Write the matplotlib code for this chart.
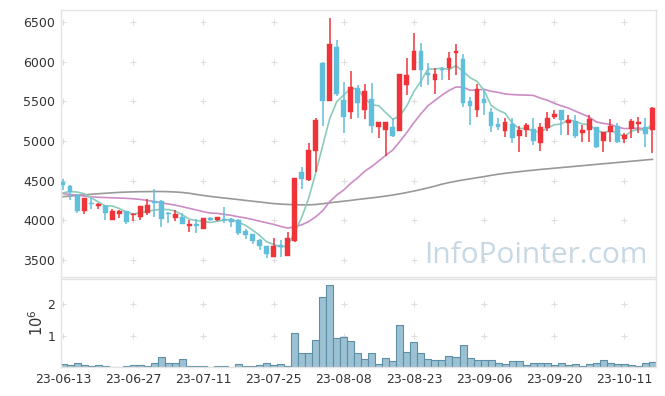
import matplotlib
matplotlib.use('Agg')
import matplotlib.pyplot as plt
import numpy as np

dates = (
    ['2023-06-%02d' % d for d in [13, 14, 15, 16, 19, 20, 21, 22, 23, 26, 27, 28, 29, 30]] +
    ['2023-07-%02d' % d for d in [3, 4, 5, 6, 7, 10, 11, 12, 13, 14, 17, 18, 19, 20, 21, 24, 25, 26, 27, 28, 31]] +
    ['2023-08-%02d' % d for d in [1, 2, 3, 4, 7, 8, 9, 10, 11, 14, 16, 17, 18, 21, 22, 23, 24, 25, 28, 29, 30, 31]] +
    ['2023-09-%02d' % d for d in [1, 4, 5, 6, 7, 8, 11, 12, 13, 14, 15, 18, 19, 20, 21, 22, 25, 26, 27]] +
    ['2023-10-%02d' % d for d in [4, 5, 6, 10, 11, 12, 13, 16, 17]]
)

opens = [4486, 4432, 4318, 4120, 4210, 4180, 4184, 4003, 4079, 4117,
         4066, 4045, 4087, 4243, 4243, 4095, 4033, 4045, 3930, 3940,
         3894, 4024, 4003, 4020, 4020, 4003, 3864, 3823, 3751, 3675,
         3533, 3680, 3553, 3743, 4608, 4508, 4877, 5987, 5508, 6185,
         5516, 5361, 5664, 5390, 5529, 5175, 5140, 5172, 5130, 5706,
         5895, 6134, 5861, 5769, 5900, 5924, 6105, 6033, 5504, 5390,
         5529, 5361, 5218, 5129, 5218, 5062, 5134, 5155, 4978, 5167,
         5306, 5390, 5230, 5255, 5104, 5138, 5172, 5003, 5109, 5189,
         5020, 5147, 5214, 5172, 5134]
highs = [4520, 4440, 4325, 4285, 4277, 4215, 4190, 4138, 4125, 4120,
         4085, 4180, 4264, 4390, 4250, 4100, 4130, 4091, 4007, 4010,
         4030, 4040, 4045, 4163, 4025, 4010, 3890, 3830, 3760, 3680,
         3772, 3751, 3848, 4535, 4676, 4970, 5285, 5990, 6547, 6273,
         5743, 5882, 5700, 5714, 5727, 5245, 5245, 5285, 5850, 6042,
         6357, 6231, 5979, 5920, 5937, 6118, 6218, 6096, 5558, 5714,
         5643, 5412, 5291, 5293, 5285, 5189, 5222, 5285, 5222, 5361,
         5390, 5395, 5327, 5327, 5201, 5327, 5175, 5115, 5277, 5230,
         5100, 5277, 5306, 5285, 5432]
lows = [4380, 4255, 4091, 4075, 4138, 4138, 4003, 4000, 4024, 3953,
        3990, 4007, 4066, 4045, 3918, 3969, 3986, 3950, 3852, 3840,
        3890, 3990, 3995, 3961, 3918, 3810, 3763, 3700, 3625, 3520,
        3530, 3540, 3550, 3720, 4394, 4490, 4612, 5189, 5500, 5567,
        5100, 5280, 5285, 5273, 5096, 5033, 4810, 5050, 5120, 5580,
        5890, 5684, 5706, 5588, 5769, 5769, 5832, 5432, 5201, 5306,
        5327, 5117, 5138, 5054, 4970, 4865, 5054, 4949, 4877, 5126,
        5280, 5075, 5075, 5033, 4991, 4991, 4907, 4865, 4991, 4970,
        4974, 5033, 5104, 4928, 4844]
closes = [4448, 4360, 4120, 4281, 4200, 4205, 4095, 4120, 4120, 3978,
          4079, 4180, 4192, 4214, 4016, 4075, 4079, 3956, 3940, 3930,
          4024, 4003, 4041, 4003, 3978, 3843, 3814, 3738, 3675, 3574,
          3675, 3665, 3780, 4529, 4520, 4886, 5264, 5508, 6223, 5592,
          5306, 5677, 5475, 5630, 5192, 5240, 5238, 5066, 5844, 5832,
          6134, 5895, 5828, 5844, 5890, 6050, 6134, 5475, 5441, 5655,
          5482, 5189, 5180, 5239, 5041, 5138, 5201, 5000, 5180, 5289,
          5344, 5264, 5264, 5066, 5138, 5277, 4928, 5109, 5189, 4983,
          5075, 5252, 5243, 5092, 5412]

ma_short = [4345, 4362, 4355, 4335, 4282, 4233, 4180, 4180, 4148, 4104,
            4078, 4095, 4110, 4129, 4136, 4135, 4115, 4068, 4013, 3996,
            3986, 3971, 3988, 4000, 4010, 3974, 3936, 3875, 3810, 3729,
            3695, 3665, 3674, 3845, 4034, 4276, 4596, 4941, 5280, 5495,
            5579, 5661, 5655, 5536, 5456, 5443, 5355, 5273, 5316, 5444,
            5623, 5754, 5907, 5907, 5918, 5901, 5949, 5879, 5798, 5751,
            5637, 5448, 5389, 5349, 5226, 5157, 5160, 5124, 5112, 5162,
            5203, 5215, 5268, 5245, 5215, 5202, 5135, 5104, 5128, 5097,
            5057, 5122, 5148, 5129, 5215]
ma_mid = [4335, 4325, 4315, 4305, 4295, 4290, 4286, 4283, 4280, 4276,
          4271, 4262, 4250, 4235, 4220, 4205, 4190, 4170, 4150, 4129,
          4108, 4090, 4086, 4073, 4061, 4043, 4029, 4010, 3988, 3968,
          3948, 3922, 3901, 3917, 3942, 3983, 4042, 4120, 4234, 4317,
          4381, 4465, 4536, 4618, 4678, 4748, 4819, 4886, 4994, 5107,
          5230, 5342, 5444, 5510, 5578, 5636, 5680, 5678, 5639, 5642,
          5651, 5627, 5612, 5592, 5585, 5580, 5578, 5575, 5541, 5514,
          5475, 5443, 5415, 5376, 5339, 5300, 5240, 5221, 5209, 5175,
          5155, 5158, 5161, 5154, 5172]
ma_long = [4297, 4305, 4313, 4320, 4327, 4334, 4340, 4346, 4351, 4355,
           4358, 4360, 4361, 4362, 4362, 4360, 4356, 4350, 4340, 4325,
           4312, 4300, 4290, 4280, 4270, 4260, 4250, 4240, 4230, 4220,
           4210, 4204, 4199, 4196, 4194, 4194, 4198, 4208, 4220, 4230,
           4240, 4250, 4262, 4272, 4282, 4293, 4305, 4318, 4333, 4350,
           4368, 4387, 4408, 4430, 4455, 4475, 4492, 4508, 4522, 4536,
           4550, 4566, 4580, 4592, 4602, 4612, 4622, 4631, 4640, 4648,
           4656, 4664, 4672, 4680, 4688, 4696, 4704, 4712, 4720, 4728,
           4736, 4744, 4752, 4760, 4768]

volume_m = [0.09, 0.07, 0.13, 0.07, 0.04, 0.07, 0.04, 0.01, 0.01, 0.03,
            0.07, 0.07, 0.04, 0.13, 0.32, 0.13, 0.13, 0.26, 0.04, 0.04,
            0.04, 0.01, 0.04, 0.04, 0.01, 0.09, 0.04, 0.04, 0.06, 0.13,
            0.07, 0.09, 0.04, 1.09, 0.43, 0.45, 0.87, 2.22, 2.61, 0.93,
            0.96, 0.83, 0.44, 0.25, 0.44, 0.09, 0.30, 0.18, 1.34, 0.47,
            0.79, 0.44, 0.25, 0.22, 0.22, 0.35, 0.32, 0.70, 0.28, 0.22,
            0.22, 0.22, 0.12, 0.09, 0.18, 0.18, 0.06, 0.12, 0.12, 0.12,
            0.06, 0.12, 0.06, 0.09, 0.03, 0.09, 0.12, 0.22, 0.12, 0.09,
            0.09, 0.06, 0.03, 0.12, 0.16]

price_ticks = [3500, 4000, 4500, 5000, 5500, 6000, 6500]
vol_ticks = [1, 2]
tick_step = 10

UP = '#ee3439'
DOWN = '#62bfdb'
GRID = '#dedede'
SPINE = '#e3e3e3'
TXT = '#333333'

plt.rcParams['font.family'] = ['DejaVu Sans']
fig = plt.figure(figsize=(6.65, 3.96), dpi=100)
ax = fig.add_axes([0.0917, 0.3005, 0.8947, 0.6742])
axv = fig.add_axes([0.0917, 0.0732, 0.8947, 0.2222])

x = np.arange(len(dates))
o = np.array(opens, float)
c = np.array(closes, float)
h = np.array(highs, float)
l = np.array(lows, float)
up = c >= o
col = np.where(up, UP, DOWN)

tick_pos = x[::tick_step]
tick_lab = [d[2:] for d in dates[::tick_step]]

# grid crosses
for a, yt in ((ax, price_ticks), (axv, vol_ticks)):
    gx, gy = np.meshgrid(tick_pos, yt)
    a.scatter(gx.ravel(), gy.ravel(), marker='+', s=20, c=GRID, linewidths=0.8, zorder=0)

# moving averages
ax.plot(x, ma_long, color='#999999', lw=1.2, zorder=2)
ax.plot(x, ma_mid, color='#cc8cc6', lw=1.2, zorder=2)
ax.plot(x, ma_short, color='#8ccbbd', lw=1.2, zorder=2)

# candles
ax.vlines(x, l, h, colors=col, lw=1.1, zorder=3)
body_bottom = np.minimum(o, c)
body_h = np.maximum(np.abs(c - o), 18)
ax.bar(x, body_h, bottom=body_bottom, width=0.68, color=col, edgecolor=col, linewidth=0.3, zorder=4)

ax.set_xlim(-0.3, 84.5)
ax.set_ylim(3284, 6651)
ax.set_yticks(price_ticks)
ax.set_xticks(tick_pos)
ax.set_xticklabels([])

# volume
axv.bar(x, volume_m, width=1.0, color='#9cc1d3', edgecolor='#5c8ea8', linewidth=0.8, zorder=2)
axv.set_xlim(-0.3, 84.5)
axv.set_ylim(0, 2.8)
axv.set_yticks(vol_ticks)
axv.set_xticks(tick_pos)
axv.set_xticklabels(tick_lab)
axv.set_ylabel(r'$10^6$', fontsize=10.5, color=TXT, labelpad=1)

for a in (ax, axv):
    for s in a.spines.values():
        s.set_color(SPINE)
        s.set_linewidth(1.0)
    a.tick_params(length=0, labelsize=9, colors=TXT, pad=4)

ax.text(0.986, 0.025, 'InfoPointer.com', transform=ax.transAxes, ha='right', va='bottom',
        fontsize=21.5, color='#c6d8e4', family=['Open Sans', 'DejaVu Sans'], zorder=1)

fig.savefig('out.png', dpi=100)
